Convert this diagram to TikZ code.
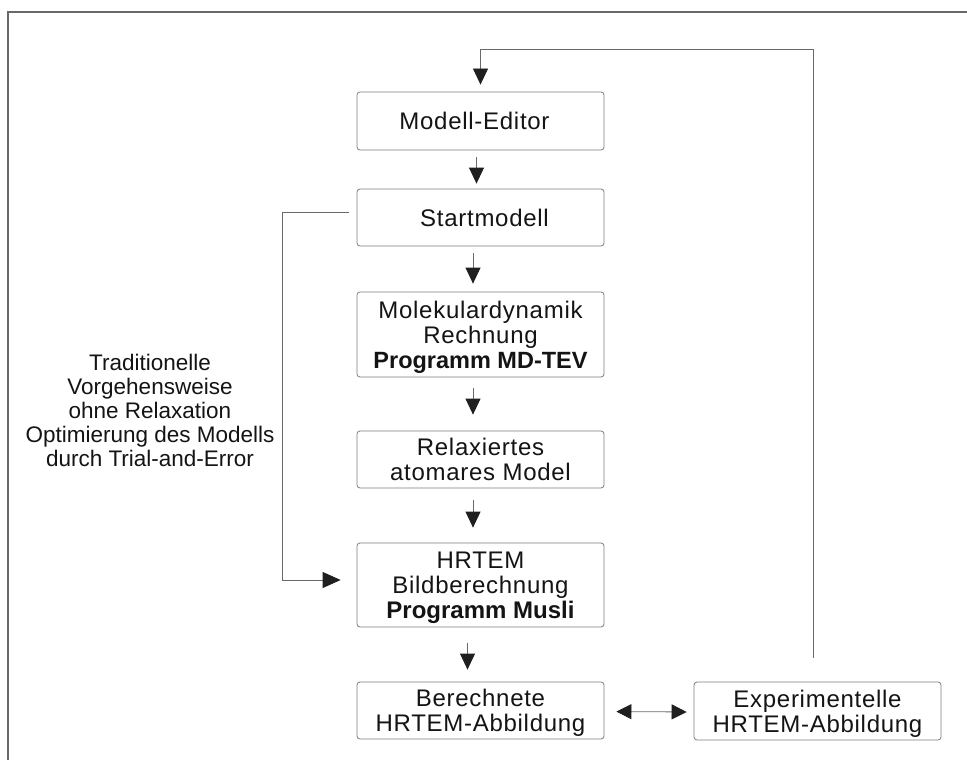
\documentclass[tikz,border=0pt]{standalone}
\usepackage{fontspec}
\setmainfont{Liberation Sans}[LetterSpace=3, BoldFeatures={LetterSpace=0}]
\newfontfamily\sidefont{Liberation Sans}
\usetikzlibrary{arrows.meta}
\definecolor{linegray}{RGB}{105,105,105}
\definecolor{boxgray}{RGB}{125,125,125}
\definecolor{txt}{RGB}{20,20,20}
\tikzset{
  stepbox/.style={draw=boxgray, line width=0.8pt, rounded corners=3pt,
    minimum width=247pt, align=center, text=txt, inner sep=0pt, text depth=0pt,
    font=\fontsize{24}{25}\selectfont},
  flow/.style={draw=linegray, line width=0.8pt,
    -{Triangle[length=16pt,width=15pt]}, arrows={[color=black!88]}},
  bigflow/.style={draw=linegray, line width=0.8pt,
    -{Triangle[length=18pt,width=16pt]}, arrows={[color=black!88]}},
  dflow/.style={draw=linegray, line width=0.8pt,
    {Triangle[length=15pt,width=15pt]}-{Triangle[length=15pt,width=15pt]}, arrows={[color=black!88]}},
  frameline/.style={draw=linegray, line width=1.5pt}
}
\begin{document}
\begin{tikzpicture}[x=1pt,y=-1pt]
\useasboundingbox (0,0) rectangle (967,760);
\fill[white] (0,0) rectangle (967,760);
% frame
\draw[frameline] (8,760) -- (8,12) -- (967,12);
% boxes
\node[stepbox, minimum height=58pt] (me) at (480.5,121) {\hspace*{-12pt}Modell-Editor};
\node[stepbox, minimum height=57pt] (sm) at (480.5,217.5) {\hspace*{8pt}Startmodell};
\node[stepbox, minimum height=85pt] (md) at (480.5,334.5) {Molekulardynamik\\Rechnung\\\fontsize{23.5}{25}\selectfont\textbf{Programm MD-TEV}};
\node[stepbox, minimum height=57pt] (rx) at (480.5,459.5) {Relaxiertes\\atomares Model};
\node[stepbox, minimum height=84pt] (hr) at (480.5,585) {HRTEM\\Bildberechnung\\\textbf{Programm Musli}};
\node[stepbox, minimum height=57pt] (be) at (480.5,710.5) {Berechnete\\HRTEM-Abbildung};
\node[stepbox, minimum height=58pt] (ex) at (817.5,711) {Experimentelle\\HRTEM-Abbildung};
% side text
\node[align=center, text=txt, font=\sidefont\fontsize{22.5}{24}\selectfont] (tr) at (150,410)
  {Traditionelle\\Vorgehensweise\\ohne Relaxation\\Optimierung des Modells\\durch Trial-and-Error};
% main flow
\draw[flow, shorten <=7pt, shorten >=5pt] ([xshift=-4pt]me.south) -- ([xshift=-4pt]sm.north);
\draw[flow, shorten <=7pt, shorten >=8pt] ([xshift=-7.5pt]sm.south) -- ([xshift=-7.5pt]md.north);
\draw[flow, shorten <=11pt, shorten >=16pt] ([xshift=-7.5pt]md.south) -- ([xshift=-7.5pt]rx.north);
\draw[flow, shorten <=12pt, shorten >=15pt] ([xshift=-7.5pt]rx.south) -- ([xshift=-7.5pt]hr.north);
\draw[flow, shorten <=16pt, shorten >=12pt] ([xshift=-13pt]hr.south) -- ([xshift=-13pt]be.north);
% comparison
\draw[dflow, shorten <=12pt, shorten >=7pt] ([yshift=-1pt]be.east) -- ([yshift=-1pt]ex.west);
% top feedback
\coordinate (fa) at (813,49);
\draw[flow, shorten <=24pt, shorten >=7pt] (ex.north -| fa) -- (fa) -| (me.north);
% left feedback
\draw[bigflow, shorten <=8pt, shorten >=16pt] ([yshift=5.5pt]sm.west) -- ++(-74,0) |- ([yshift=5pt]hr.west);
\end{tikzpicture}
\end{document}
